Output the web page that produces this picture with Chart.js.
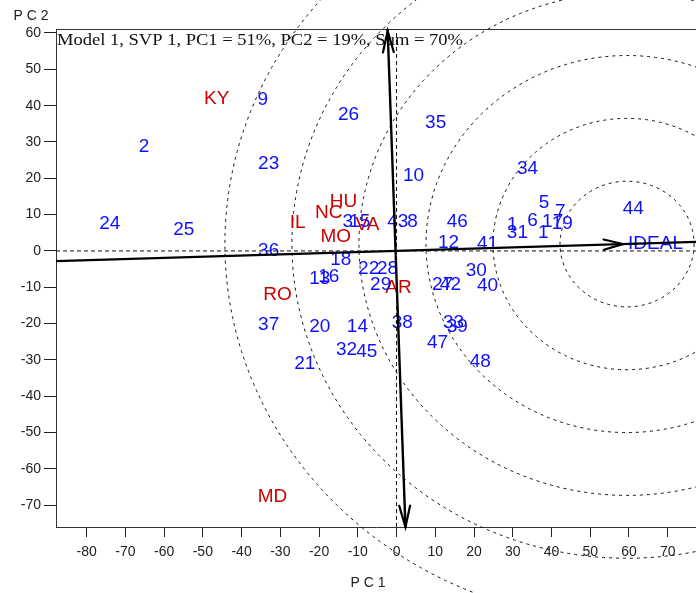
<!DOCTYPE html>
<html><head><meta charset="utf-8">
<script src="https://cdn.jsdelivr.net/npm/chart.js@4/dist/chart.umd.min.js"></script>
<style>html,body{margin:0;padding:0;background:#fff;}canvas{display:block;}</style>
</head><body>
<canvas id="c" width="696" height="593"></canvas>
<script>
// ---- data ----
const genotypeLabels = ['2','9','26','35','23','10','34','24','25','5','7','44','46','1','31','6','1','17','19','43','8','12','41','36','18','22','28','29','13','16','30','27','42','40','37','20','14','38','33','39','47','32','45','21','48','3','15'];
const genotypePC1 = [-65.2,-34.5,-12.4,10.1,-33.0,4.4,33.8,-74.0,-54.9,38.1,42.3,61.1,15.7,29.9,31.2,35.1,37.9,40.3,42.8,0.3,4.1,13.4,23.5,-33.0,-14.4,-7.2,-2.3,-4.1,-19.8,-17.5,20.6,11.9,13.9,23.5,-33.0,-19.8,-10.1,1.5,14.7,15.7,10.6,-12.9,-7.7,-23.7,21.6,-12.6,-9.5];
const genotypePC2 = [28.7,41.6,37.5,35.3,24.0,20.7,22.6,7.4,5.8,13.2,10.7,11.6,8.0,7.2,5.0,8.3,5.0,8.0,7.4,8.0,8.0,2.2,1.9,0.0,-2.5,-5.0,-5.0,-9.4,-7.7,-7.2,-5.5,-9.4,-9.4,-9.6,-20.4,-20.9,-20.9,-19.8,-19.8,-20.9,-25.3,-27.3,-27.8,-31.1,-30.6,8.0,8.0];
const envLabels = ['KY','HU','NC','IL','MO','VA','RO','AR','MD'];
const envPC1 = [-46.4,-13.7,-17.5,-25.5,-15.7,-7.5,-30.7,0.5,-32.0];
const envPC2 = [41.9,13.5,10.5,7.7,3.9,7.2,-12.1,-10.2,-67.8];
const xTicks = [-80,-70,-60,-50,-40,-30,-20,-10,0,10,20,30,40,50,60,70];
const yTicks = [-70,-60,-50,-40,-30,-20,-10,0,10,20,30,40,50,60];
const aeaPC1 = [-87.9, 77.3];
const aeaPC2 = [-2.8, 2.5];
const ordPC1 = [-2.3, 2.3];
const ordPC2 = [61.1, -76.0];
const idealPoint = {x: 59.5, y: 1.9};
const circleRadii = [17.3, 34.6, 51.9, 69.2, 86.5, 103.8];
const titleText = 'Model 1, SVP 1, PC1 = 51%, PC2 = 19%, Sum = 70%';

const X_MIN = -87.9, X_MAX = 77.3, Y_MIN = -76.0, Y_MAX = 61.1;

const toPts = (xs, ys) => xs.map((x, i) => ({x, y: ys[i]}));

const labelFont = '19px "Liberation Sans", Arial, sans-serif';
const BLUE = 'rgb(15,15,255)';
const RED = 'rgb(204,0,0)';

function arrow(ctx, tx, ty, fx, fy, len, ang) {
  const a = Math.atan2(ty - fy, tx - fx);
  ctx.beginPath();
  ctx.moveTo(tx - len * Math.cos(a - ang), ty - len * Math.sin(a - ang));
  ctx.lineTo(tx, ty);
  ctx.lineTo(tx - len * Math.cos(a + ang), ty - len * Math.sin(a + ang));
  ctx.stroke();
}

const biplotPlugin = {
  id: 'biplot',
  beforeDatasetsDraw(chart) {
    const ctx = chart.ctx, xs = chart.scales.x, ys = chart.scales.y, ca = chart.chartArea;
    ctx.save();
    // frame top line
    ctx.strokeStyle = '#333'; ctx.lineWidth = 1;
    ctx.beginPath(); ctx.moveTo(ca.left, ca.top + 0.5); ctx.lineTo(ca.right, ca.top + 0.5); ctx.stroke();
    // concentric circles around the ideal point (unclipped)
    const cx = xs.getPixelForValue(idealPoint.x), cy = ys.getPixelForValue(idealPoint.y);
    const kx = Math.abs(xs.getPixelForValue(1) - xs.getPixelForValue(0));
    const ky = Math.abs(ys.getPixelForValue(1) - ys.getPixelForValue(0));
    ctx.setLineDash([3, 4]); ctx.strokeStyle = '#111'; ctx.lineWidth = 1;
    circleRadii.forEach(r => {
      ctx.beginPath(); ctx.ellipse(cx, cy, r * kx, r * ky, 0, 0, Math.PI * 2); ctx.stroke();
    });
    ctx.setLineDash([]);
    // title, stretched to the reference width
    ctx.fillStyle = '#111';
    ctx.font = '16px "Liberation Serif", "Times New Roman", serif';
    ctx.textAlign = 'left'; ctx.textBaseline = 'alphabetic';
    const tw = ctx.measureText(titleText).width;
    ctx.save();
    ctx.translate(ca.left + 1, 45);
    ctx.scale(406 / tw, 1);
    ctx.fillText(titleText, 0, 0);
    ctx.restore();
    ctx.fillStyle = '#222';
    ctx.font = '14px "Liberation Sans", Arial, sans-serif';
    ctx.textAlign = 'center'; ctx.textBaseline = 'middle';
    ctx.fillText('P C 2', 31, 16);
    ctx.fillText('P C 1', 368, 583);
    // labels
    ctx.font = labelFont;
    const g = chart.getDatasetMeta(4).data, e = chart.getDatasetMeta(5).data;
    ctx.fillStyle = RED;
    e.forEach((p, i) => ctx.fillText(envLabels[i], p.x, p.y));
    ctx.fillStyle = BLUE;
    g.forEach((p, i) => ctx.fillText(genotypeLabels[i], p.x, p.y));
    ctx.textAlign = 'left';
    ctx.fillText('IDEAL', cx + 1, cy);
    ctx.restore();
  },
  afterDatasetsDraw(chart) {
    const ctx = chart.ctx;
    ctx.save();
    ctx.strokeStyle = '#000'; ctx.lineWidth = 2.2; ctx.lineCap = 'round';
    const a = chart.getDatasetMeta(2).data;
    const xs = chart.scales.x, ys = chart.scales.y;
    const tipX = xs.getPixelForValue(idealPoint.x) - 4, tipY = ys.getPixelForValue(idealPoint.y);
    arrow(ctx, tipX, tipY, a[0].x, a[0].y, 20, 0.26);
    const o = chart.getDatasetMeta(3).data;
    arrow(ctx, o[0].x, o[0].y + 2, o[1].x, o[1].y, 22, 0.25);
    arrow(ctx, o[1].x, o[1].y, o[0].x, o[0].y, 22, 0.25);
    ctx.restore();
  }
};

new Chart(document.getElementById('c'), {
  type: 'scatter',
  data: {
    datasets: [
      {data: toPts([X_MIN, X_MAX], [0, 0]), showLine: true, borderColor: '#111', borderWidth: 1, borderDash: [4, 3], pointRadius: 0},
      {data: toPts([0, 0], [Y_MIN, Y_MAX]), showLine: true, borderColor: '#111', borderWidth: 1, borderDash: [4, 3], pointRadius: 0},
      {data: toPts(aeaPC1, aeaPC2), showLine: true, borderColor: '#000', borderWidth: 2.4, pointRadius: 0},
      {data: toPts(ordPC1, ordPC2), showLine: true, borderColor: '#000', borderWidth: 2.4, pointRadius: 0, clip: false},
      {data: toPts(genotypePC1, genotypePC2), pointRadius: 0},
      {data: toPts(envPC1, envPC2), pointRadius: 0}
    ]
  },
  options: {
    responsive: false, animation: false, devicePixelRatio: 1,
    layout: {padding: {top: 29, left: 0, right: 0, bottom: 0}},
    plugins: {legend: {display: false}, tooltip: {enabled: false}},
    scales: {
      x: {
        type: 'linear', min: X_MIN, max: X_MAX,
        afterBuildTicks: s => { s.ticks = xTicks.map(v => ({value: v})); },
        afterFit: s => { s.height = 66; },
        ticks: {color: '#222', font: {family: '"Liberation Sans", Arial, sans-serif', size: 14}, padding: 7, maxRotation: 0, autoSkip: false},
        grid: {display: true, drawOnChartArea: false, drawTicks: true, tickLength: 10, color: '#222'},
        border: {display: true, color: '#333', width: 1}
      },
      y: {
        type: 'linear', min: Y_MIN, max: Y_MAX,
        afterBuildTicks: s => { s.ticks = yTicks.map(v => ({value: v})); },
        afterFit: s => { s.width = 56; },
        ticks: {color: '#222', font: {family: '"Liberation Sans", Arial, sans-serif', size: 14}, padding: 3, autoSkip: false},
        grid: {display: true, drawOnChartArea: false, drawTicks: true, tickLength: 12, color: '#222'},
        border: {display: true, color: '#333', width: 1}
      }
    }
  },
  plugins: [biplotPlugin]
});
</script>
</body></html>
